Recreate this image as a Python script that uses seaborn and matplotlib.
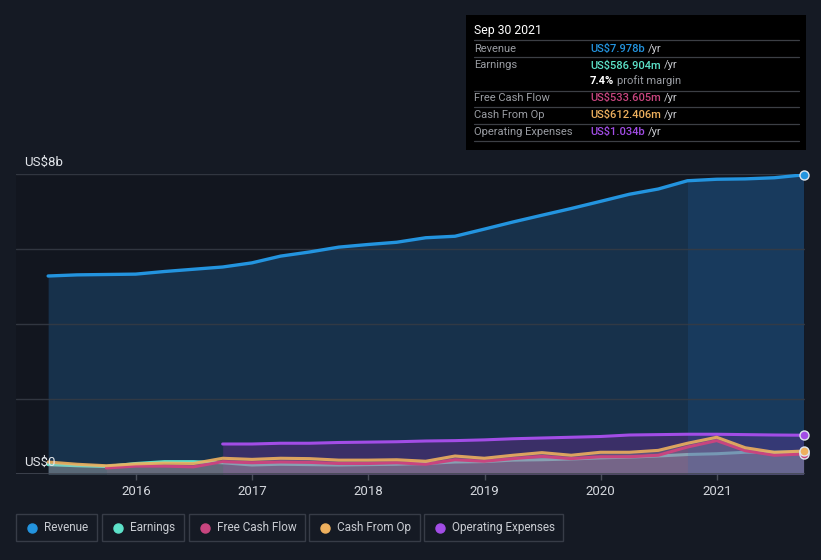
import numpy as np
import pandas as pd
import matplotlib
matplotlib.use("Agg")
import matplotlib.pyplot as plt
import seaborn as sns
from matplotlib.patches import Rectangle
from matplotlib.lines import Line2D

# ---------------- data (US$ billions, trailing twelve months) ----------------
dates = ["2015-03-31", "2015-06-30", "2015-09-30", "2015-12-31",
         "2016-03-31", "2016-06-30", "2016-09-30", "2016-12-31",
         "2017-03-31", "2017-06-30", "2017-09-30", "2017-12-31",
         "2018-03-31", "2018-06-30", "2018-09-30", "2018-12-31",
         "2019-03-31", "2019-06-30", "2019-09-30", "2019-12-31",
         "2020-03-31", "2020-06-30", "2020-09-30", "2020-12-31",
         "2021-03-31", "2021-06-30", "2021-09-30"]
revenue = [5.28, 5.31, 5.32, 5.33, 5.40, 5.46, 5.52, 5.63, 5.81, 5.92, 6.05, 6.12,
           6.18, 6.30, 6.34, 6.53, 6.72, 6.90, 7.08, 7.27, 7.46, 7.60, 7.82, 7.86,
           7.87, 7.90, 7.978]
earnings = [0.25, 0.22, 0.20, 0.28, 0.33, 0.33, 0.30, 0.24, 0.26, 0.25, 0.24, 0.25,
            0.26, 0.28, 0.32, 0.33, 0.37, 0.38, 0.40, 0.43, 0.45, 0.48, 0.52, 0.54,
            0.58, 0.58, 0.587]
free_cash_flow = [None, None, 0.16, 0.21, 0.21, 0.19, 0.33, 0.30, 0.32, 0.31, 0.28, 0.28,
                  0.30, 0.26, 0.38, 0.34, 0.41, 0.47, 0.41, 0.46, 0.46, 0.50, 0.72, 0.89,
                  0.62, 0.50, 0.534]
cash_from_op = [0.32, 0.26, 0.22, 0.27, 0.29, 0.28, 0.42, 0.39, 0.42, 0.41, 0.37, 0.37,
                0.38, 0.34, 0.48, 0.42, 0.50, 0.57, 0.50, 0.58, 0.58, 0.63, 0.82, 0.98,
                0.70, 0.58, 0.612]
operating_expenses = [None, None, None, None, None, None, 0.80, 0.80, 0.82, 0.82, 0.84, 0.85,
                      0.86, 0.88, 0.89, 0.91, 0.94, 0.96, 0.98, 1.00, 1.04, 1.05, 1.06, 1.06,
                      1.05, 1.04, 1.034]
year_ticks = [2016, 2017, 2018, 2019, 2020, 2021]
legend_labels = ["Revenue", "Earnings", "Free Cash Flow", "Cash From Op", "Operating Expenses"]

# ---------------- styling ----------------
BG = "#151a24"
C_REV = "#2394df"
C_EARN = "#5de2c9"
C_FCF = "#c8457f"
C_CFO = "#eeb05e"
C_OPEX = "#a24de6"
GRID = "#353a44"

sns.set_theme(style="dark")
plt.rcParams["font.family"] = ["Roboto", "DejaVu Sans"]

d = pd.to_datetime(dates)
x = (d.year + (d.dayofyear - 1) / np.where(d.is_leap_year, 366, 365)).to_numpy()
df = pd.DataFrame({"x": x, "Revenue": revenue, "Earnings": earnings,
                   "FCF": pd.to_numeric(pd.Series(free_cash_flow), errors="coerce"),
                   "CFO": cash_from_op,
                   "OpEx": pd.to_numeric(pd.Series(operating_expenses), errors="coerce")})

W, H = 821, 560
fig = plt.figure(figsize=(W / 100, H / 100), dpi=100, facecolor=BG)
ax = fig.add_axes([16 / W, 1 - 474 / H, (805 - 16) / W, 300 / H])
ax.set_facecolor("#12161f")
px_per_year = 116.2
ax.set_xlim(2016 - 120 / px_per_year, 2016 + 669 / px_per_year)
ax.set_ylim(0, 8)

# fills
ax.fill_between(df["x"], 0, df["Revenue"], color="#17314b", lw=0, zorder=1)
m_e = df["Earnings"].notna()
ax.fill_between(df["x"][m_e], 0, df["Earnings"][m_e], color="#8fb8b0", alpha=0.22, lw=0, zorder=2)
sns.lineplot(data=df, x="x", y="Earnings", color=C_EARN, lw=2.2, ax=ax, zorder=3)
m_o = df["OpEx"].notna()
ax.fill_between(df["x"][m_o], 0, df["OpEx"][m_o], color="#8c2ca8", alpha=0.30, lw=0, zorder=4)
m_c = df["CFO"].notna()
ax.fill_between(df["x"][m_c], 0, df["CFO"][m_c], color="#b8a8b0", alpha=0.30, lw=0, zorder=4)
m_f = df["FCF"].notna()
ax.fill_between(df["x"][m_f], 0, df["FCF"][m_f], color="#a07890", alpha=0.18, lw=0, zorder=4)

# past-year highlight
m_h = df["x"] >= 2020.74
ax.fill_between(df["x"][m_h], 0, df["Revenue"][m_h], color="#1f6fc0", alpha=0.16, lw=0, zorder=5)

for yv in [2, 4, 6, 8]:
    ax.axhline(yv, color=GRID, lw=1, zorder=5.5, alpha=0.9)
ax.axhline(0, color="#434853", lw=1.2, zorder=5.5)

sns.lineplot(data=df, x="x", y="Revenue", color=C_REV, lw=2.4, ax=ax, zorder=6)
sns.lineplot(data=df, x="x", y="OpEx", color=C_OPEX, lw=2.2, ax=ax, zorder=6)
sns.lineplot(data=df, x="x", y="FCF", color=C_FCF, lw=2.2, ax=ax, zorder=6)
sns.lineplot(data=df, x="x", y="CFO", color=C_CFO, lw=2.2, ax=ax, zorder=6.2, alpha=0.9)

# end markers
last = df.iloc[-1]
for col, c in [("Earnings", C_EARN), ("FCF", C_FCF), ("CFO", C_CFO), ("OpEx", C_OPEX), ("Revenue", C_REV)]:
    ax.plot([last["x"]], [last[col]], marker="o", ms=6.5, mfc=c, mec="#dfe6ee", mew=1,
            zorder=8, clip_on=False)

ax.set_xticks(year_ticks)
ax.set_xticklabels([str(y) for y in year_ticks])
ax.set_yticks([])
ax.tick_params(axis="x", colors="#4a4f5a", labelcolor="#d5d8de", labelsize=9.5,
               length=4, width=1, pad=4, direction="out", bottom=True)
ax.set_xlabel("")
ax.set_ylabel("")
ax.grid(False)
for s in ax.spines.values():
    s.set_visible(False)

fig.text(24 / W, 1 - 162 / H, "US$8b", color="#e2e5ea", fontsize=9.5, va="center", ha="left")
fig.text(24 / W, 1 - 462 / H, "US$0", color="#e2e5ea", fontsize=9.5, va="center", ha="left")

# ---------------- tooltip ----------------
def fx(p):
    return p / W

def fy(p):
    return 1 - p / H

fig.patches.append(Rectangle((fx(466), fy(150)), fx(806) - fx(466), fy(15) - fy(150),
                             transform=fig.transFigure, facecolor="#000000", edgecolor="none", zorder=10))
fig.text(fx(474), fy(30.5), "Sep 30 2021", color="#ffffff", fontsize=8.8, va="center", zorder=11)
for ly in [40, 57.3, 90.7, 107.3, 124, 141]:
    fig.add_artist(Line2D([fx(474), fx(799)], [fy(ly), fy(ly)], transform=fig.transFigure,
                          color="#3c3f45", lw=0.9, zorder=11))
rows = [("Revenue", "US$7.978b", C_REV, 48.5),
        ("Earnings", "US$586.904m", C_EARN, 65.5),
        ("Free Cash Flow", "US$533.605m", C_FCF, 98),
        ("Cash From Op", "US$612.406m", C_CFO, 115),
        ("Operating Expenses", "US$1.034b", C_OPEX, 132)]
fig.canvas.draw()
renderer = fig.canvas.get_renderer()
for lab, val, c, yy in rows:
    fig.text(fx(474), fy(yy), lab, color="#9a9da3", fontsize=8, va="center", zorder=11)
    t = fig.text(fx(590), fy(yy), val, color=c, fontsize=8, va="center", zorder=11, fontweight="medium")
    bb = t.get_window_extent(renderer)
    fig.text(bb.x1 / W + fx(3), fy(yy), "/yr", color="#c8cacf", fontsize=8, va="center", zorder=11)
t = fig.text(fx(590), fy(81), "7.4%", color="#ffffff", fontsize=8, va="center", zorder=11, fontweight="bold")
bb = t.get_window_extent(renderer)
fig.text(bb.x1 / W + fx(3), fy(81), "profit margin", color="#9a9da3", fontsize=8, va="center", zorder=11)

# ---------------- legend ----------------
boxes = [(16.3, 97.3), (102.3, 184.3), (189.4, 304.5), (309.3, 419.5), (424.3, 563.4)]
colors = [C_REV, C_EARN, C_FCF, C_CFO, C_OPEX]
for (x0, x1), lab, c in zip(boxes, legend_labels, colors):
    fig.patches.append(Rectangle((fx(x0), fy(541)), fx(x1) - fx(x0), fy(514.3) - fy(541),
                                 transform=fig.transFigure, facecolor="none",
                                 edgecolor="#373c47", lw=1, zorder=10))
    fig.add_artist(Line2D([fx(x0 + 15.4)], [fy(527.5)], transform=fig.transFigure, marker="o",
                          ms=6.5, mfc=c, mec=c, lw=0, zorder=11))
    fig.text(fx(x0 + 28), fy(527.5), lab, color="#c9ccd2", fontsize=8.5, va="center", zorder=11)

fig.savefig("out.png", dpi=100, facecolor=BG)
